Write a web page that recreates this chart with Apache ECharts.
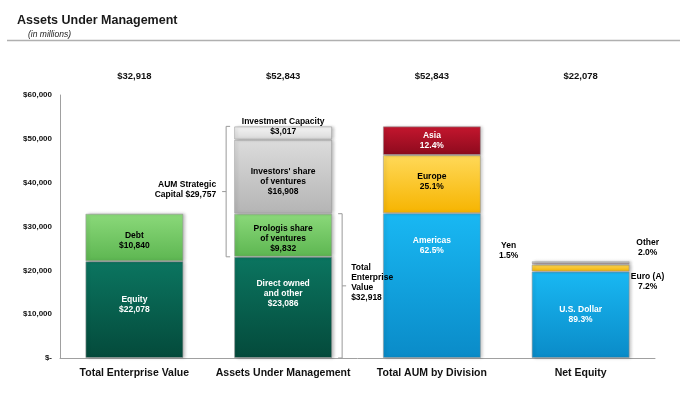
<!DOCTYPE html>
<html><head><meta charset="utf-8">
<script src="https://cdn.jsdelivr.net/npm/echarts@6/dist/echarts.min.js"></script>
<style>html,body{margin:0;padding:0;background:#fff}#c{width:680px;height:393px}</style>
</head><body><div id="c"></div>
<script>
// ---------- data ----------
const categories = ['Total Enterprise Value', 'Assets Under Management', 'Total AUM by Division', 'Net Equity'];
const totalLabels = ['$32,918', '$52,843', '$52,843', '$22,078'];
const yMin = 0, yMax = 60000, yStep = 10000;

const equity             = [22078, '-', '-', '-'];
const debt               = [10840, '-', '-', '-'];
const directOwned        = ['-', 23086, '-', '-'];
const prologisShare      = ['-', 9832, '-', '-'];
const investorsShare     = ['-', 16908, '-', '-'];
const investmentCapacity = ['-', 3017, '-', '-'];
const americas           = ['-', '-', 33027, '-'];
const europe             = ['-', '-', 13264, '-'];
const asia               = ['-', '-', 6553, '-'];
const usDollar           = ['-', '-', '-', 19716];
const euroA              = ['-', '-', '-', 1590];
const yen                = ['-', '-', '-', 331];
const otherCcy           = ['-', '-', '-', 442];

// bracket annotations: [category index, low, high, side(-1 left / 1 right)]
const bracketCategory = [1, 1];
const bracketLow  = [23086, 0];
const bracketHigh = [52843, 32918];
const bracketSide = [-1, 1];
const bracketText = ['AUM Strategic\nCapital $29,757', 'Total\nEnterprise\nValue\n$32,918'];

// ---------- styling ----------
const FONT = 'Liberation Sans, Arial, sans-serif';
const BAR_W = 98;
function grad(top, bottom) {
  return new echarts.graphic.LinearGradient(0, 0, 0, 1, [
    { offset: 0, color: top }, { offset: 1, color: bottom }
  ]);
}
const C = {
  dkGreen: ['#0b7560', '#044a3b'],
  ltGreen: ['#8bd97a', '#5db651'],
  gray:    ['#dcdcdc', '#b4b4b4'],
  ltGray:  ['#f4f4f4', '#dadada'],
  blue:    ['#19b8f3', '#0a8bc8'],
  yellow:  ['#ffd959', '#f6b400'],
  red:     ['#c4162e', '#8c0a1d']
};

function seg(name, data, colors, text, textColor, labelExtra) {
  return {
    name, type: 'bar', stack: 'total', data, barWidth: BAR_W,
    itemStyle: {
      color: grad(colors[0], colors[1]),
      borderColor: 'rgba(150,150,150,0.55)', borderWidth: 1,
      shadowColor: 'rgba(0,0,0,0.25)', shadowBlur: 3, shadowOffsetX: 2, shadowOffsetY: 0
    },
    label: Object.assign({
      show: text !== '', position: 'inside', formatter: text,
      color: textColor, fontFamily: FONT, fontWeight: 'bold', fontSize: 8.5, lineHeight: 10
    }, labelExtra || {}),
    emphasis: { disabled: true }
  };
}

const outsideLbl = { color: '#000', align: 'center' };

const series = [
  seg('Equity', equity, C.dkGreen, 'Equity\n$22,078', '#fff', { offset: [0, -5] }),
  seg('Debt', debt, C.ltGreen, 'Debt\n$10,840', '#000', { offset: [0, 3] }),
  seg('Direct owned and other', directOwned, C.dkGreen, 'Direct owned\nand other\n$23,086', '#fff', { offset: [0, -14] }),
  seg('Prologis share of ventures', prologisShare, C.ltGreen, 'Prologis share\nof ventures\n$9,832', '#000', { offset: [0, 3] }),
  seg("Investors' share of ventures", investorsShare, C.gray, "Investors' share\nof ventures\n$16,908", '#000', { offset: [0, 5] }),
  seg('Investment Capacity', investmentCapacity, C.ltGray, 'Investment Capacity\n$3,017', '#000', { offset: [0, -6] }),
  seg('Americas', americas, C.blue, 'Americas\n62.5%', '#fff', { offset: [0, -40] }),
  seg('Europe', europe, C.yellow, 'Europe\n25.1%', '#000', { offset: [0, -3] }),
  seg('Asia', asia, C.red, 'Asia\n12.4%', '#fff'),
  seg('U.S. Dollar', usDollar, C.blue, 'U.S. Dollar\n89.3%', '#fff'),
  seg('Euro (A)', euroA, C.yellow, 'Euro (A)\n7.2%', '#000', Object.assign({ position: 'right', distance: 18, offset: [0, 14] }, outsideLbl)),
  seg('Yen', yen, C.red, 'Yen\n1.5%', '#000', Object.assign({ position: 'left', distance: 23, offset: [0, -13] }, outsideLbl)),
  seg('Other', otherCcy, C.ltGray, 'Other\n2.0%', '#000', Object.assign({ position: 'right', distance: 18, offset: [0, -15] }, outsideLbl)),
  {
    type: 'custom', name: 'brackets', xAxisIndex: 0, yAxisIndex: 0, z: 10, silent: true,
    data: bracketCategory.map((c, i) => [c, bracketLow[i], bracketHigh[i], bracketSide[i]]),
    encode: { x: 0, y: [1, 2] },
    renderItem: function (params, api) {
      const cat = api.value(0), lo = api.value(1), hi = api.value(2), side = api.value(3);
      const pLo = api.coord([cat, lo]), pHi = api.coord([cat, hi]);
      const gap = side < 0 ? 8 : 10;
      const x = pLo[0] + side * (BAR_W / 2 + gap);
      const yTop = pHi[1], yBot = pLo[1], yMid = (yTop + yBot) / 2;
      const hook = -side * 4, tick = side * 4;
      const st = { stroke: '#9a9a9a', lineWidth: 1, fill: null };
      const txt = bracketText[params.dataIndex];
      return {
        type: 'group',
        children: [
          { type: 'polyline', shape: { points: [[x + hook, yTop], [x, yTop], [x, yBot], [x + hook, yBot]] }, style: st },
          { type: 'line', shape: { x1: x, y1: yMid, x2: x + tick, y2: yMid }, style: st },
          {
            type: 'text',
            x: side < 0 ? x - 10 : x + 9, y: side < 0 ? yMid - 2 : yMid - 3,
            style: {
              text: txt, fill: '#000', font: 'bold 8.5px ' + FONT, lineHeight: 10,
              align: side < 0 ? 'right' : 'left', verticalAlign: 'middle'
            }
          }
        ]
      };
    }
  }
];

const chart = echarts.init(document.getElementById('c'), null, { renderer: 'canvas' });
chart.setOption({
  animation: false,
  backgroundColor: '#fff',
  grid: { left: 60, right: 25, top: 95, bottom: 35, containLabel: false },
  title: [
    { text: 'Assets Under Management', left: 12, top: 9,
      textStyle: { fontFamily: FONT, fontWeight: 'bold', fontSize: 12.5, color: '#1a1a1a' } },
    { text: '(in millions)', left: 23, top: 25,
      textStyle: { fontFamily: FONT, fontStyle: 'italic', fontWeight: 'normal', fontSize: 8.5, color: '#222' } }
  ],
  graphic: [
    { type: 'line', shape: { x1: 7, y1: 40.5, x2: 680, y2: 40.5 }, style: { stroke: '#b0b0b0', lineWidth: 1.5 } }
  ],
  xAxis: [
    {
      type: 'category', data: categories, position: 'bottom',
      axisLine: { show: true, lineStyle: { color: '#a0a0a0', width: 1 } },
      axisTick: { show: false },
      axisLabel: { margin: 10, fontFamily: FONT, fontWeight: 'bold', fontSize: 10.5, color: '#111', interval: 0 }
    },
    {
      type: 'category', data: totalLabels, position: 'top',
      axisLine: { show: false }, axisTick: { show: false },
      axisLabel: { margin: 14, fontFamily: FONT, fontWeight: 'bold', fontSize: 9.5, color: '#111', interval: 0 }
    }
  ],
  yAxis: {
    type: 'value', min: yMin, max: yMax, interval: yStep,
    axisLine: { show: true, lineStyle: { color: '#a0a0a0', width: 1 } },
    axisTick: { show: false },
    splitLine: { show: false },
    axisLabel: {
      margin: 8, fontFamily: FONT, fontWeight: 'bold', fontSize: 8, color: '#111',
      formatter: v => v === 0 ? '$-' : '$' + v.toLocaleString('en-US')
    }
  },
  series
});
</script>
</body></html>
